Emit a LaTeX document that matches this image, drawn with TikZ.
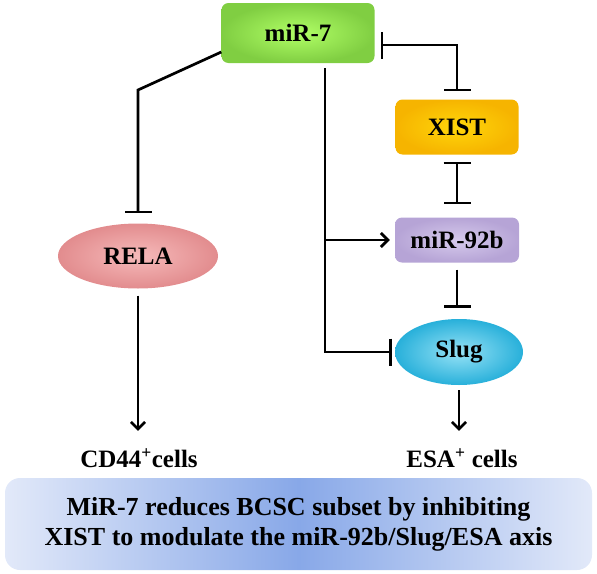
\documentclass[tikz,border=0pt]{standalone}
\usepackage{fontspec}
\setmainfont{Liberation Serif}
\usetikzlibrary{arrows.meta,shapes.geometric}

\begin{document}
\begin{tikzpicture}[x=1pt,y=-1pt,
    lbl/.style={font=\fontsize{25}{30}\selectfont\bfseries},
    gbox/.style={lbl,rectangle,rounded corners=7pt,inner sep=0pt},
    gell/.style={lbl,ellipse,inner sep=0pt},
    link/.style={line width=2.7pt},
    bar/.tip={Bar[width=27pt,line width=2.7pt]},
    inh/.style={link,-bar},
    act/.style={link,-{Straight Barb[length=7pt,width=14pt,line width=2.7pt]}}]
    \useasboundingbox (0,0) rectangle (597,573);

    \node[gbox,minimum width=153pt,minimum height=60pt,inner color=green!35!lime!60!white,outer color={rgb,255:red,128;green,206;blue,66}] (m7) at (298,33) {miR-7};
    \node[gbox,minimum width=123pt,minimum height=55pt,inner color={rgb,255:red,255;green,214;blue,10},outer color={rgb,255:red,246;green,180;blue,0}] (xist) at (457,127) {XIST};
    \node[gbox,minimum width=124pt,minimum height=45pt,inner color={rgb,255:red,214;green,202;blue,236},outer color={rgb,255:red,182;green,164;blue,214}] (m92) at (457,240) {miR-92b};
    \node[gell,minimum width=160pt,minimum height=65pt,inner color={rgb,255:red,246;green,186;blue,186},outer color={rgb,255:red,226;green,140;blue,142}] (rela) at (138,256) {RELA};
    \node[gell,minimum width=128pt,minimum height=66pt,inner color={rgb,255:red,150;green,226;blue,246},outer color={rgb,255:red,40;green,176;blue,218}] (slug) at (459,352) {Slug};
    \node[lbl] (cd) at (139,458) {CD44\textsuperscript{+}cells};
    \node[lbl] (esa) at (462,458) {ESA\textsuperscript{+} cells};
    \node[rectangle,rounded corners=15pt,minimum width=587pt,minimum height=92pt,
      left color={rgb,255:red,226;green,233;blue,249},right color={rgb,255:red,226;green,233;blue,249},
      middle color={rgb,255:red,136;green,168;blue,232},align=center,
      font=\fontsize{26}{30}\selectfont\bfseries] (sum) at (298.5,524)
      {MiR-7 reduces BCSC subset by inhibiting\\XIST to modulate the miR-92b/Slug/ESA axis};

    \coordinate (k1) at (rela.north |- 0,90); \coordinate (k2) at (xist.north |- 0,45);
    \coordinate (k3) at (325,352); \coordinate (j) at (325,240);
    \coordinate (e1) at (slug.south |- esa.north); \coordinate (c1) at (rela.south |- cd.north);
    \draw[inh,shorten >=10pt] (m7.west |- 0,52) -- (k1) -- (rela.north);
    \draw[link,bar-bar,shorten <=6pt,shorten >=8pt] (m7.east |- 0,45) -- (k2) -- (xist.north);
    \draw[link,bar-bar,shorten <=7pt,shorten >=13pt] (xist.south) -- (m92.north);
    \draw[inh,shorten <=5pt,shorten >=3pt] (m7.south -| k3) -- (k3) -- (slug.west);
    \draw[act,shorten >=5pt] (j) -- (m92.west);
    \draw[inh,shorten <=7pt,shorten >=11pt] (m92.south) -- (m92.south |- slug.north);
    \draw[act,shorten <=5pt,shorten >=14pt] (slug.south) -- (e1);
    \draw[act,shorten <=7pt,shorten >=14pt] (rela.south) -- (c1);
\end{tikzpicture}
\end{document}
